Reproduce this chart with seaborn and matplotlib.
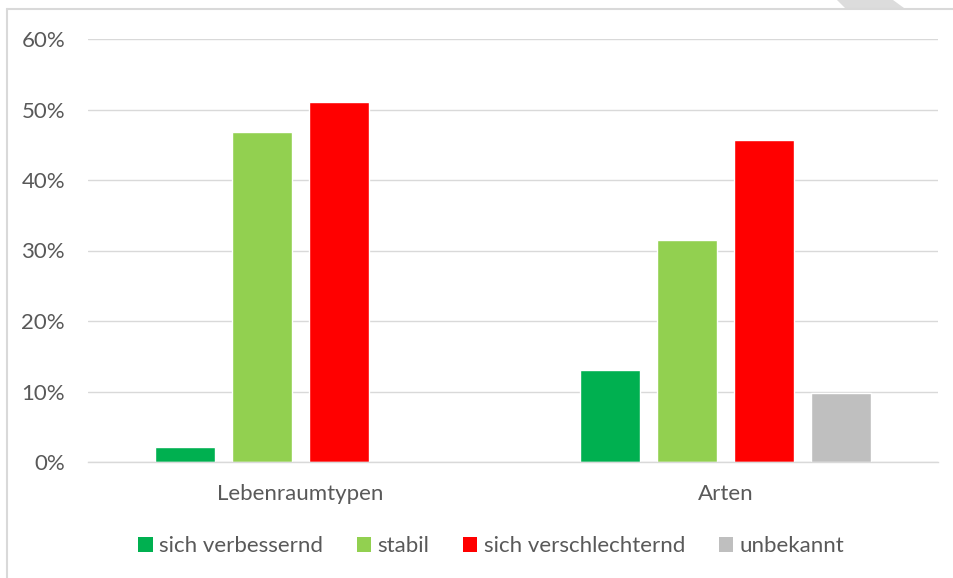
import pandas as pd
import matplotlib.pyplot as plt
import seaborn as sns
from matplotlib.lines import Line2D
from matplotlib.patches import Patch, Polygon
from matplotlib.ticker import PercentFormatter

# values (percent)
categories = ["Lebenraumtypen", "Arten"]
trends = ["sich verbessernd", "stabil", "sich verschlechternd", "unbekannt"]
lebensraum_values = [2.1, 46.8, 51.0, 0.0]
arten_values = [13.0, 31.5, 45.7, 9.8]
colors = ["#00b050", "#92d050", "#ff0000", "#bfbfbf"]
y_ticks = [0, 10, 20, 30, 40, 50, 60]

df = pd.DataFrame({
    "Kategorie": [categories[0]] * 4 + [categories[1]] * 4,
    "Trend": trends * 2,
    "Anteil": lebensraum_values + arten_values,
})

sns.set_style("white")
plt.rcParams['font.family'] = ['Lato', 'DejaVu Sans']
text_color = "#595959"
grid_color = "#d9d9d9"
font_size = 16

fig = plt.figure(figsize=(9.54, 5.78), dpi=100)
ax = fig.add_axes([88 / 954, 1 - 462 / 578, 850 / 954, 423 / 578])

sns.barplot(data=df, x="Kategorie", y="Anteil", hue="Trend", order=categories,
            hue_order=trends, palette=colors, width=0.725, gap=0.22,
            saturation=1, legend=False, ax=ax)

ax.set_xlim(-0.5, 1.5)
ax.set_ylim(0, 60)
ax.set_yticks(y_ticks)
ax.yaxis.set_major_formatter(PercentFormatter(decimals=0))
ax.grid(axis="y", color=grid_color, linewidth=1)
ax.set_axisbelow(True)
for side in ["left", "right", "top"]:
    ax.spines[side].set_visible(False)
ax.spines["bottom"].set_color(grid_color)
ax.spines["bottom"].set_linewidth(1)
ax.tick_params(axis="both", length=0, labelsize=font_size, labelcolor=text_color)
ax.tick_params(axis="y", pad=16.5)
ax.tick_params(axis="x", pad=16)
ax.set_xlabel("")
ax.set_ylabel("")

handles = [Patch(facecolor=c, edgecolor="none") for c in colors]
fig.legend(handles, trends, loc="center", bbox_to_anchor=(0.515, 1 - 546 / 578),
           ncol=4, frameon=False, fontsize=font_size, labelcolor=text_color,
           handlelength=0.65, handleheight=0.65, handletextpad=0.3,
           columnspacing=1.5)

# page frame: left and top edge, plus watermark corner
fig.add_artist(Line2D([7 / 954, 7 / 954], [0, 1 - 9 / 578], color=grid_color,
                      linewidth=1.5, transform=fig.transFigure))
fig.add_artist(Line2D([7 / 954, 1], [1 - 9 / 578, 1 - 9 / 578], color=grid_color,
                      linewidth=1.5, transform=fig.transFigure))
fig.add_artist(Polygon([(837 / 954, 1), (893 / 954, 1), (904 / 954, 1 - 8 / 578),
                        (845 / 954, 1 - 8 / 578)], closed=True, facecolor="#dcdcdc",
                       edgecolor="none", transform=fig.transFigure))

fig.savefig("out.png", dpi=100)
